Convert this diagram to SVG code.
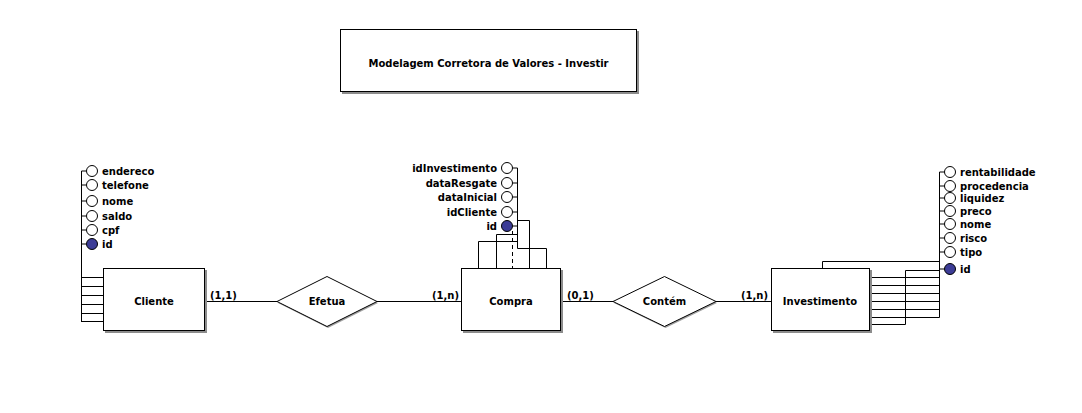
<svg xmlns="http://www.w3.org/2000/svg" width="1082" height="413" viewBox="0 0 1082 413">
<style>
text{font-family:"DejaVu Sans",Verdana,sans-serif;font-weight:bold;font-size:10px;fill:#000}
.box{fill:#fff;stroke:#000;stroke-width:1}
.sh{fill:#8c8c8c}
.ln{fill:none;stroke:#000;stroke-width:1}
.at{fill:#fff;stroke:#000;stroke-width:1}
.pk{fill:#3c3c96;stroke:#000;stroke-width:1}
.c{text-anchor:middle}
.e{text-anchor:end}
</style>
<rect width="1082" height="413" fill="#fff"/>
<g id="title">
<rect class="sh" x="342" y="31" width="297" height="63"/>
<rect class="box" x="340.5" y="29.5" width="296" height="62"/>
<text class="c" x="488.5" y="66.5">Modelagem Corretora de Valores - Investir</text>
</g>
<g id="connectors">
<path class="ln" d="M205 301.5H277M377 301.5H461M561 301.5H613M716 301.5H771"/>
<text x="210" y="299">(1,1)</text>
<text x="432" y="299">(1,n)</text>
<text x="567" y="299">(0,1)</text>
<text x="741" y="299">(1,n)</text>
</g>
<g id="cliente">
<path class="ln" d="M81.5 171V321.5M81.5 171H86M81.5 185H86M81.5 201H86M81.5 216H86M81.5 230H86M81.5 244H86M81 277.5H103M81 286.5H103M81 295.5H103M81 304.5H103M81 313.5H103M81 321.5H103"/>
<circle class="at" cx="92" cy="171" r="5.5"/>
<circle class="at" cx="92" cy="185" r="5.5"/>
<circle class="at" cx="92" cy="201" r="5.5"/>
<circle class="at" cx="92" cy="216" r="5.5"/>
<circle class="at" cx="92" cy="230" r="5.5"/>
<circle class="pk" cx="92" cy="244" r="5.5"/>
<text x="102" y="175">endereco</text>
<text x="102" y="189">telefone</text>
<text x="102" y="205">nome</text>
<text x="102" y="220">saldo</text>
<text x="102" y="234">cpf</text>
<text x="102" y="248">id</text>
<rect class="sh" x="105" y="270" width="102" height="63"/>
<rect class="box" x="103.5" y="268.5" width="101" height="62"/>
<text class="c" x="154" y="305">Cliente</text>
</g>
<g id="compra">
<path class="ln" d="M517.5 168V248.5H546.5V268M517.5 220.5H529.5V268M517.5 234.5H496.5V268M517.5 241.5H478.5V268M512.5 168H517.5M512.5 183H517.5M512.5 197H517.5M512.5 212H517.5M512.5 226H517.5"/>
<path class="ln" d="M512.5 231V268" stroke-dasharray="4,3"/>
<circle class="at" cx="507" cy="168" r="5.5"/>
<circle class="at" cx="507" cy="183" r="5.5"/>
<circle class="at" cx="507" cy="197" r="5.5"/>
<circle class="at" cx="507" cy="212" r="5.5"/>
<circle class="pk" cx="507" cy="226" r="5.5"/>
<text class="e" x="497" y="172">idInvestimento</text>
<text class="e" x="497" y="187">dataResgate</text>
<text class="e" x="497" y="201">dataInicial</text>
<text class="e" x="497" y="216">idCliente</text>
<text class="e" x="497" y="230">id</text>
<rect class="sh" x="463" y="270" width="100" height="63"/>
<rect class="box" x="461.5" y="268.5" width="99" height="62"/>
<text class="c" x="511" y="305">Compra</text>
</g>
<g id="efetua">
<polygon points="328,278 378,303 328,328 278,303" fill="#a0a0a0"/>
<polygon class="box" points="327,276.5 377,301.5 327,326.5 277,301.5"/>
<text class="c" x="327" y="305">Efetua</text>
</g>
<g id="contem">
<polygon points="665.5,278 717,303 665.5,328 614,303" fill="#a0a0a0"/>
<polygon class="box" points="664.5,276.5 716,301.5 664.5,326.5 613,301.5"/>
<text class="c" x="664.5" y="305">Contém</text>
</g>
<g id="investimento">
<path class="ln" d="M939.5 172V317.5M822.5 268V261.5H939.5M939.5 270.5H905.5V324.5H871M871 277.5H939.5M871 285.5H939.5M871 293.5H939.5M871 301.5H939.5M871 309.5H939.5M871 317.5H939.5M939.5 172H944.5M939.5 186H944.5M939.5 198H944.5M939.5 211H944.5M939.5 224H944.5M939.5 238H944.5M939.5 252H944.5M939.5 269H944.5"/>
<circle class="at" cx="950" cy="172" r="5.5"/>
<circle class="at" cx="950" cy="186" r="5.5"/>
<circle class="at" cx="950" cy="198" r="5.5"/>
<circle class="at" cx="950" cy="211" r="5.5"/>
<circle class="at" cx="950" cy="224" r="5.5"/>
<circle class="at" cx="950" cy="238" r="5.5"/>
<circle class="at" cx="950" cy="252" r="5.5"/>
<circle class="pk" cx="950" cy="269" r="5.5"/>
<text x="960" y="176">rentabilidade</text>
<text x="960" y="190">procedencia</text>
<text x="960" y="202">liquidez</text>
<text x="960" y="215">preco</text>
<text x="960" y="228">nome</text>
<text x="960" y="242">risco</text>
<text x="960" y="256">tipo</text>
<text x="960" y="273">id</text>
<rect class="sh" x="773" y="270" width="99" height="63"/>
<rect class="box" x="771.5" y="268.5" width="98" height="62"/>
<text class="c" x="820" y="305">Investimento</text>
</g>
</svg>
